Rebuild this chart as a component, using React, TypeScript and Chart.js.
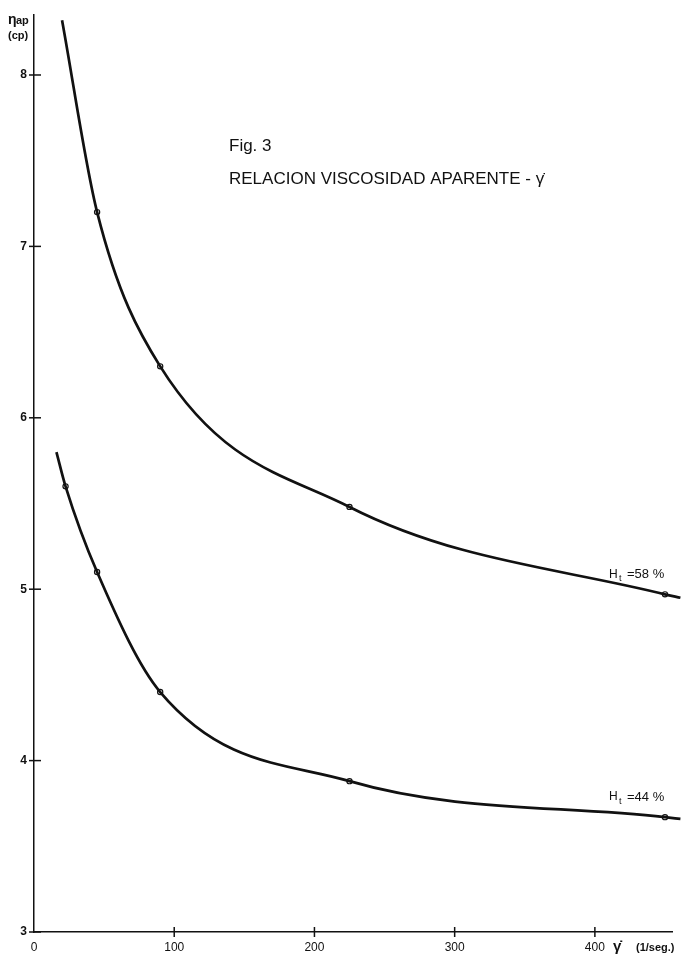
import React, { useEffect, useRef } from "react";
import { Chart, registerables } from "chart.js";

Chart.register(...registerables);

// Measured points (shear rate in 1/seg, apparent viscosity in cp)
const shearHt58 = [45, 90, 225, 450];
const viscHt58 = [7.2, 6.3, 5.48, 4.97];
const shearHt44 = [22.5, 45, 90, 225, 450];
const viscHt44 = [5.6, 5.1, 4.4, 3.88, 3.67];

// Drawn fitted curves (ends included)
const curve58X = [20, 45, 90, 225, 450, 461];
const curve58Y = [8.32, 7.2, 6.3, 5.48, 4.97, 4.95];
const curve44X = [16, 22.5, 45, 90, 225, 450, 461];
const curve44Y = [5.8, 5.6, 5.1, 4.4, 3.88, 3.67, 3.66];

const xTicks = [0, 100, 200, 300, 400];
const yTicks = [3, 4, 5, 6, 7, 8];

const FONT = "'Liberation Sans', Arial, sans-serif";

const toXY = (xs: number[], ys: number[]) => xs.map((x, i) => ({ x, y: ys[i] }));

const decorPlugin = {
  id: "decor",
  afterDraw(chart: any) {
    const ctx: CanvasRenderingContext2D = chart.ctx;
    const xs = chart.scales.x;
    const ys = chart.scales.y;
    const x0 = xs.getPixelForValue(0);
    const y0 = ys.getPixelForValue(3);
    ctx.save();
    ctx.strokeStyle = "#111";
    ctx.fillStyle = "#111";
    ctx.lineWidth = 1.5;
    // y tick crosses and labels
    ctx.font = `bold 12px ${FONT}`;
    ctx.textAlign = "right";
    ctx.textBaseline = "middle";
    yTicks.forEach((v) => {
      const py = ys.getPixelForValue(v);
      ctx.beginPath();
      ctx.moveTo(x0 - 5, py);
      ctx.lineTo(x0 + 7, py);
      ctx.stroke();
      ctx.fillText(String(v), x0 - 7, py);
    });
    // x tick crosses and labels
    ctx.font = `12px ${FONT}`;
    ctx.textAlign = "center";
    xTicks.forEach((v) => {
      const px = xs.getPixelForValue(v);
      if (v !== 0) {
        ctx.beginPath();
        ctx.moveTo(px, y0 - 5);
        ctx.lineTo(px, y0 + 5);
        ctx.stroke();
      }
      ctx.fillText(String(v), px, y0 + 16);
    });
    // x axis title
    ctx.textAlign = "left";
    ctx.font = `bold 15px ${FONT}`;
    ctx.fillText("\u03B3\u0307", 613, y0 + 15);
    ctx.font = `bold 11px ${FONT}`;
    ctx.fillText("(1/seg.)", 636, y0 + 16);
    // y axis title
    ctx.font = `bold 14px ${FONT}`;
    ctx.fillText("\u03B7", 8, 20);
    ctx.font = `bold 11px ${FONT}`;
    ctx.fillText("ap", 16, 21);
    ctx.fillText("(cp)", 8, 36);
    // titles
    ctx.font = `17px ${FONT}`;
    ctx.fillText("Fig. 3", 229, 146);
    ctx.fillText("RELACION VISCOSIDAD APARENTE - \u03B3\u0307", 229, 179);
    // series labels
    const lbl = (text: string, gx: number, v: number) => {
      const px = xs.getPixelForValue(gx) - 56;
      const py = ys.getPixelForValue(v) - 20;
      ctx.font = `12px ${FONT}`;
      ctx.fillText("H", px, py);
      ctx.font = `9px ${FONT}`;
      ctx.fillText("t", px + 10, py + 4);
      ctx.font = `13px ${FONT}`;
      ctx.fillText(text, px + 18, py);
    };
    lbl("=58 %", 450, viscHt58[viscHt58.length - 1]);
    lbl("=44 %", 450, viscHt44[viscHt44.length - 1]);
    ctx.restore();
  },
};

export default function App() {
  const ref = useRef<HTMLCanvasElement | null>(null);
  useEffect(() => {
    document.body.style.margin = "0";
    if (!ref.current) return;
    const curveStyle = {
      showLine: true,
      borderColor: "#111",
      borderWidth: 2.7,
      pointRadius: 0,
      cubicInterpolationMode: "monotone",
      clip: false,
    };
    const chart = new Chart(ref.current, {
      type: "scatter",
      data: {
        datasets: [
          { label: "curve58", data: toXY(curve58X, curve58Y), ...curveStyle } as any,
          { label: "curve44", data: toXY(curve44X, curve44Y), ...curveStyle } as any,
          {
            label: "Ht58",
            data: toXY(shearHt58, viscHt58),
            showLine: false,
            pointRadius: 2.6,
            pointBackgroundColor: "#fff",
            pointBorderColor: "#111",
            pointBorderWidth: 1.2,
          },
          {
            label: "Ht44",
            data: toXY(shearHt44, viscHt44),
            showLine: false,
            pointRadius: 2.6,
            pointBackgroundColor: "#fff",
            pointBorderColor: "#111",
            pointBorderWidth: 1.2,
          },
        ],
      },
      options: {
        animation: false,
        responsive: false,
        layout: { padding: { left: 26, right: 9, top: 15, bottom: 17 } },
        plugins: { legend: { display: false }, tooltip: { enabled: false } },
        scales: {
          x: {
            type: "linear",
            min: 0,
            max: 455,
            grid: { display: false },
            ticks: { display: false },
            border: { display: true, color: "#111", width: 1.5 },
          },
          y: {
            type: "linear",
            min: 3,
            max: 8.35,
            grid: { display: false },
            ticks: { display: false },
            border: { display: true, color: "#111", width: 1.5 },
          },
        },
      },
      plugins: [decorPlugin],
    });
    return () => chart.destroy();
  }, []);
  return <canvas ref={ref} width={681} height={957} style={{ display: "block" }} />;
}
